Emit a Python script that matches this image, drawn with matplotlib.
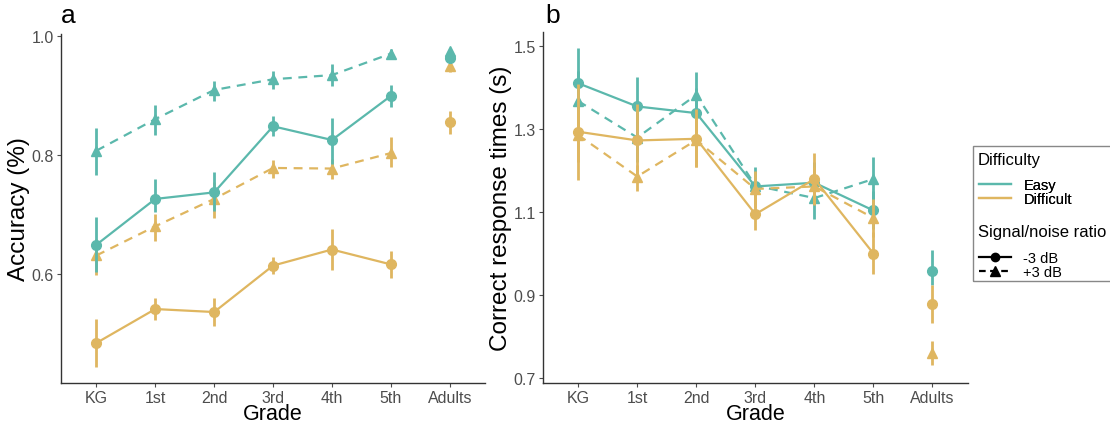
import numpy as np
import matplotlib.pyplot as plt
from matplotlib.lines import Line2D
from matplotlib.patches import Rectangle

plt.rcParams['font.family'] = ['Liberation Sans', 'DejaVu Sans']

# data
grades = ['KG', '1st', '2nd', '3rd', '4th', '5th', 'Adults']

acc_easy_m3 = [0.649, 0.726, 0.737, 0.848, 0.825, 0.899, 0.962]
acc_easy_m3_lo = [0.603, 0.704, 0.705, 0.832, 0.785, 0.880, 0.955]
acc_easy_m3_hi = [0.696, 0.760, 0.771, 0.866, 0.862, 0.918, 0.969]

acc_easy_p3 = [0.807, 0.860, 0.909, 0.927, 0.934, 0.970, 0.975]
acc_easy_p3_lo = [0.766, 0.834, 0.891, 0.911, 0.916, 0.963, 0.970]
acc_easy_p3_hi = [0.845, 0.884, 0.924, 0.941, 0.953, 0.978, 0.980]

acc_diff_m3 = [0.484, 0.541, 0.536, 0.614, 0.641, 0.616, 0.855]
acc_diff_m3_lo = [0.444, 0.522, 0.513, 0.600, 0.606, 0.593, 0.835]
acc_diff_m3_hi = [0.524, 0.560, 0.559, 0.629, 0.676, 0.639, 0.874]

acc_diff_p3 = [0.631, 0.680, 0.726, 0.778, 0.777, 0.803, 0.950]
acc_diff_p3_lo = [0.598, 0.656, 0.694, 0.761, 0.760, 0.779, 0.939]
acc_diff_p3_hi = [0.659, 0.701, 0.754, 0.792, 0.793, 0.830, 0.957]

rt_easy_m3 = [1.411, 1.355, 1.339, 1.162, 1.171, 1.104, 0.957]
rt_easy_m3_lo = [1.33, 1.29, 1.27, 1.12, 1.13, 1.06, 0.925]
rt_easy_m3_hi = [1.497, 1.425, 1.40, 1.21, 1.22, 1.15, 1.009]

rt_easy_p3 = [1.368, 1.280, 1.383, 1.164, 1.134, 1.180, np.nan]
rt_easy_p3_lo = [1.30, 1.22, 1.33, 1.12, 1.083, 1.126, np.nan]
rt_easy_p3_hi = [1.44, 1.34, 1.437, 1.20, 1.19, 1.234, np.nan]

rt_diff_m3 = [1.294, 1.273, 1.277, 1.095, 1.180, 1.000, 0.879]
rt_diff_m3_lo = [1.178, 1.19, 1.208, 1.057, 1.118, 0.951, 0.833]
rt_diff_m3_hi = [1.41, 1.36, 1.35, 1.142, 1.242, 1.053, 0.925]

rt_diff_p3 = [1.286, 1.186, 1.274, 1.156, 1.162, 1.086, 0.760]
rt_diff_p3_lo = [1.22, 1.151, 1.21, 1.11, 1.12, 1.04, 0.732]
rt_diff_p3_hi = [1.35, 1.214, 1.33, 1.20, 1.21, 1.131, 0.788]

teal = '#5BB8AC'
gold = '#DFB660'
dash = (4, 3)


def draw_series(ax, m, lo, hi, col, marker, dashed):
    x = np.arange(len(m))
    m = np.array(m, dtype=float)
    ax.vlines(x, lo, hi, color=col, lw=2)
    ls = '--' if dashed else '-'
    ms = 7.5 if marker == '^' else 7
    ln, = ax.plot(x[:6], m[:6], color=col, lw=1.6, ls=ls, marker=marker, ms=ms)
    if dashed:
        ln.set_dashes(dash)
    ax.plot(x[6:], m[6:], color=col, lw=0, marker=marker, ms=ms)


def style(ax, ylabel, yticks, ylim):
    for s in ['top', 'right']:
        ax.spines[s].set_visible(False)
    for s in ['left', 'bottom']:
        ax.spines[s].set_color('#333333')
        ax.spines[s].set_linewidth(1.0)
    ax.set_xlim(-0.6, 6.6)
    ax.set_ylim(*ylim)
    ax.set_xticks(range(len(grades)))
    ax.set_xticklabels(grades)
    ax.set_yticks(yticks)
    ax.set_yticklabels(['%.1f' % t for t in yticks])
    ax.tick_params(colors='#4D4D4D', labelsize=11.5, length=3, width=0.8, pad=2)
    ax.set_xlabel('Grade', fontsize=15.5, labelpad=-1)
    ax.set_ylabel(ylabel, fontsize=17.5, labelpad=1)


fig = plt.figure(figsize=(11.1, 4.27), dpi=100)
ax1 = fig.add_axes([0.055, 0.101, 0.382, 0.817])
ax2 = fig.add_axes([0.489, 0.101, 0.383, 0.822])

draw_series(ax1, acc_diff_m3, acc_diff_m3_lo, acc_diff_m3_hi, gold, 'o', False)
draw_series(ax1, acc_diff_p3, acc_diff_p3_lo, acc_diff_p3_hi, gold, '^', True)
draw_series(ax1, acc_easy_m3, acc_easy_m3_lo, acc_easy_m3_hi, teal, 'o', False)
draw_series(ax1, acc_easy_p3, acc_easy_p3_lo, acc_easy_p3_hi, teal, '^', True)
style(ax1, 'Accuracy (%)', [0.6, 0.8, 1.0], (0.417, 1.003))

draw_series(ax2, rt_easy_m3, rt_easy_m3_lo, rt_easy_m3_hi, teal, 'o', False)
draw_series(ax2, rt_easy_p3, rt_easy_p3_lo, rt_easy_p3_hi, teal, '^', True)
draw_series(ax2, rt_diff_m3, rt_diff_m3_lo, rt_diff_m3_hi, gold, 'o', False)
draw_series(ax2, rt_diff_p3, rt_diff_p3_lo, rt_diff_p3_hi, gold, '^', True)
style(ax2, 'Correct response times (s)', [0.7, 0.9, 1.1, 1.3, 1.5], (0.688, 1.535))

fig.text(0.055, 0.962, 'a', fontsize=19, va='center', ha='left')
fig.text(0.491, 0.962, 'b', fontsize=19, va='center', ha='left')

# legend: frame, two titles, two entry blocks
W, H = 1110, 427
fig.patches.append(Rectangle((973 / W, 1 - 282 / H), 0.2, 135 / H,
                             transform=fig.transFigure, fill=False,
                             ec='#888888', lw=1.0))
fig.text(978 / W, 1 - 161 / H, 'Difficulty', fontsize=12, va='center', ha='left')
fig.text(978 / W, 1 - 233 / H, 'Signal/noise ratio', fontsize=12, va='center', ha='left')

leg_kw = dict(loc='upper left', frameon=False, fontsize=10.5,
              handlelength=2.2, handletextpad=0.85, labelspacing=0.0,
              borderpad=0, borderaxespad=0)
h1 = [Line2D([], [], color=teal, lw=1.6), Line2D([], [], color=gold, lw=1.6)]
leg1 = fig.legend(h1, ['Easy', 'Difficult'],
                  bbox_to_anchor=(979 / W, 1 - 179 / H), **leg_kw)
h2 = [Line2D([], [], color='black', lw=1.6, marker='o', ms=6),
      Line2D([], [], color='black', lw=1.6, marker='^', ms=6.5, ls='--', dashes=(3, 2))]
leg2 = fig.legend(h2, ['-3 dB', '+3 dB'],
                  bbox_to_anchor=(979 / W, 1 - 252 / H), **leg_kw)
fig.add_artist(leg1)

fig.savefig('out.png', dpi=100)
